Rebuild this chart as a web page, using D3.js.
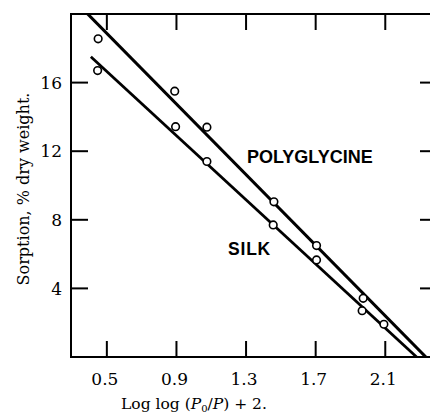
<!DOCTYPE html>
<html lang="en">
<head>
<meta charset="UTF-8">
<title>Sorption</title>
<script src="https://d3js.org/d3.v7.min.js"></script>
<style>
  body { margin: 0; background: #fff; }
</style>
</head>
<body>
<div id="chart"></div>
<script>
    // measured points
    const polyX = [0.45, 0.89, 1.075, 1.46, 1.705, 1.973]
    const polyY = [18.55, 15.5, 13.4, 9.05, 6.5, 3.42]
    const silkX = [0.447, 0.895, 1.075, 1.456, 1.705, 1.967, 2.092]
    const silkY = [16.7, 13.43, 11.4, 7.7, 5.66, 2.7, 1.91]
    // fitted lines [x, y] at both ends
    const polyLine = [[0.39, 20], [2.333, 0]]
    const silkLine = [[0.408, 17.51], [2.28, 0]]
    const xTicks = [0.5, 0.9, 1.3, 1.7, 2.1]
    const yTicks = [4, 8, 12, 16]

    const width = 430, height = 413
    const mLeft = 71, mRight = 430, mTop = 14, mBottom = 357

    const svg = d3.select("#chart").append("svg")
        .attr("width", width)
        .attr("height", height)

    const x = d3.scaleLinear().domain([0.294, 2.357]).range([mLeft, mRight])
    const y = d3.scaleLinear().domain([0, 20]).range([mBottom, mTop])

    const serif = "'DejaVu Serif', serif"

    // frame (no right side)
    svg.append("path")
        .attr("d", `M${mRight},${mTop} L${mLeft},${mTop} L${mLeft},${mBottom} L${mRight},${mBottom}`)
        .attr("fill", "none")
        .attr("stroke", "#000")
        .attr("stroke-width", 2)

    // ticks drawn inward on all sides
    svg.append("g").selectAll("line").data(xTicks).join("line")
        .attr("x1", d => x(d)).attr("x2", d => x(d))
        .attr("y1", mBottom).attr("y2", mBottom - 16)
        .attr("stroke", "#000").attr("stroke-width", 2)
    svg.append("g").selectAll("line").data(xTicks).join("line")
        .attr("x1", d => x(d)).attr("x2", d => x(d))
        .attr("y1", mTop).attr("y2", mTop + 16)
        .attr("stroke", "#000").attr("stroke-width", 2)
    svg.append("g").selectAll("line").data(yTicks).join("line")
        .attr("x1", mLeft).attr("x2", mLeft + 17)
        .attr("y1", d => y(d)).attr("y2", d => y(d))
        .attr("stroke", "#000").attr("stroke-width", 2)
    svg.append("g").selectAll("line").data(yTicks).join("line")
        .attr("x1", mRight).attr("x2", mRight - 10)
        .attr("y1", d => y(d)).attr("y2", d => y(d))
        .attr("stroke", "#000").attr("stroke-width", 2)

    // tick labels
    svg.append("g").selectAll("text").data(xTicks).join("text")
        .attr("x", d => x(d) - 2)
        .attr("y", 385)
        .attr("text-anchor", "middle")
        .attr("font-family", serif).attr("font-size", 17)
        .text(d3.format(".1f"))
    svg.append("g").selectAll("text").data(yTicks).join("text")
        .attr("x", mLeft - 9)
        .attr("y", d => y(d))
        .attr("dy", "0.36em")
        .attr("text-anchor", "end")
        .attr("font-family", serif).attr("font-size", 17)
        .text(d => d)

    // fitted lines
    const line = d3.line().x(d => x(d[0])).y(d => y(d[1]))
    svg.append("path").attr("d", line(polyLine))
        .attr("stroke", "#000").attr("stroke-width", 3.2).attr("fill", "none")
    svg.append("path").attr("d", line(silkLine))
        .attr("stroke", "#000").attr("stroke-width", 2.8).attr("fill", "none")

    // points
    const pts = polyX.map((v, i) => [v, polyY[i]]).concat(silkX.map((v, i) => [v, silkY[i]]))
    svg.append("g").selectAll("circle").data(pts).join("circle")
        .attr("cx", d => x(d[0]))
        .attr("cy", d => y(d[1]))
        .attr("r", 3.8)
        .attr("fill", "#fff")
        .attr("stroke", "#000")
        .attr("stroke-width", 1.6)

    // series labels
    svg.append("text").attr("x", 247).attr("y", 163)
        .attr("font-family", "'Liberation Sans', Arial, sans-serif")
        .attr("font-weight", "bold").attr("font-size", 18)
        .text("POLYGLYCINE")
    svg.append("text").attr("x", 228).attr("y", 255)
        .attr("font-family", "'Liberation Sans', Arial, sans-serif")
        .attr("font-weight", "bold").attr("font-size", 17.5)
        .attr("letter-spacing", 0.8)
        .text("SILK")

    // axis titles
    const xt = svg.append("text").attr("x", 194).attr("y", 409)
        .attr("text-anchor", "middle")
        .attr("font-family", serif).attr("font-size", 15.5)
    xt.append("tspan").text("Log log (")
    xt.append("tspan").attr("font-style", "italic").text("P")
    xt.append("tspan").attr("font-size", 10).attr("dy", 2.5).text("0")
    xt.append("tspan").attr("dy", -2.5).text("/")
    xt.append("tspan").attr("font-style", "italic").text("P")
    xt.append("tspan").text(") + 2.")

    svg.append("text")
        .attr("transform", "translate(29,189) rotate(-90)")
        .attr("text-anchor", "middle")
        .attr("font-family", serif).attr("font-size", 16)
        .text("Sorption, % dry weight.")
</script>
</body>
</html>
